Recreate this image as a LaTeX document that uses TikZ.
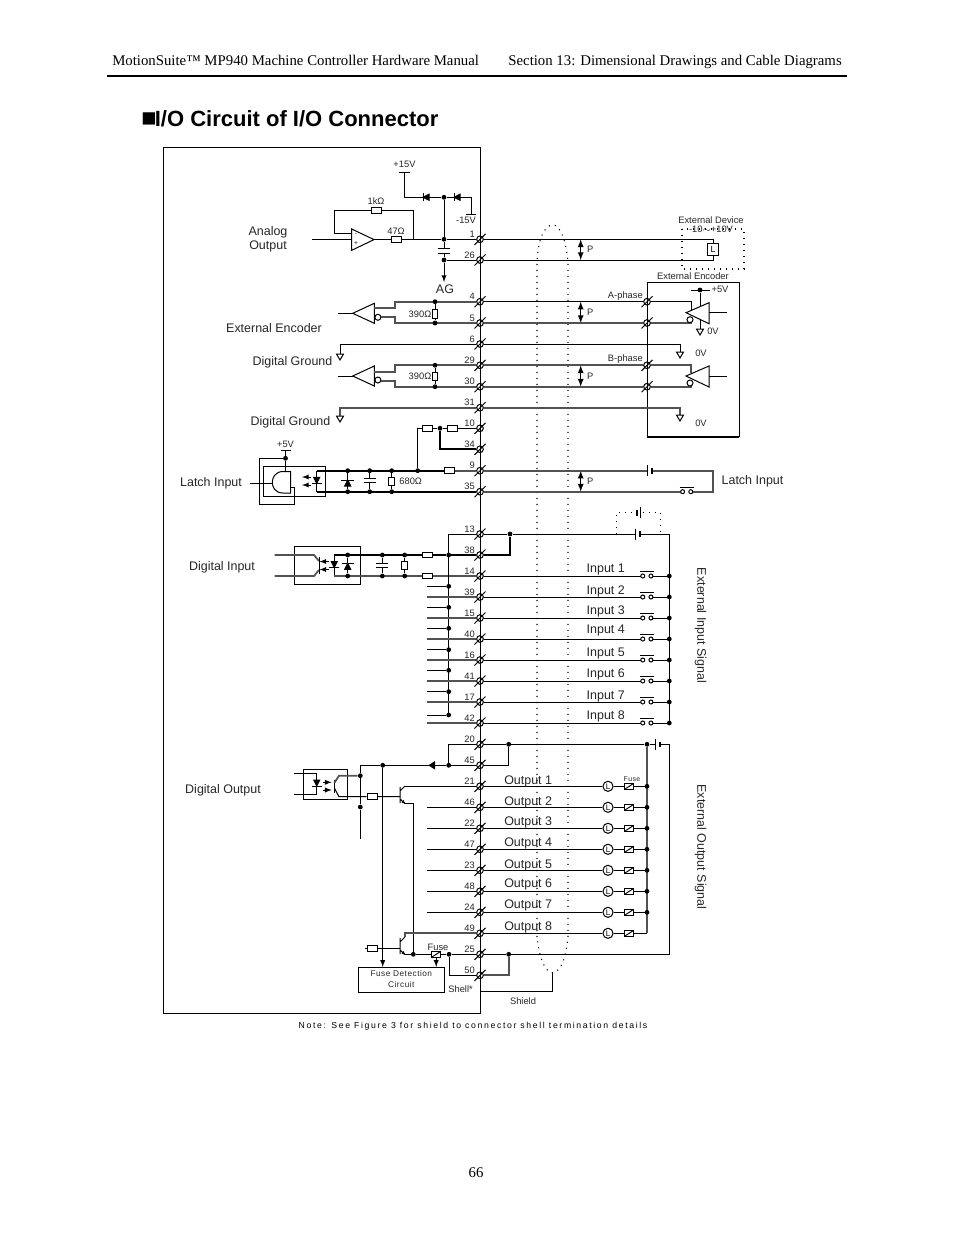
\documentclass[tikz,border=0pt]{standalone}
\usepackage{fontspec}
\setmainfont{Liberation Sans}
\newfontfamily\headfont{Liberation Serif}
\newfontfamily\notefont[LetterSpace=19]{Liberation Sans}
\newfontfamily\spacedfont[LetterSpace=6]{Liberation Sans}
\usetikzlibrary{calc}
\tikzset{
    wire/.style={line width=0.75pt},
    wireg/.style={line width=1.3pt,black!68},
    wirek/.style={line width=1.6pt},
    shieldline/.style={line width=0.8pt,dash pattern=on 0.8pt off 3.7pt},
    dot/.style={circle,fill=black,inner sep=0pt,minimum size=3.6pt},
    term/.style={circle,draw,line width=0.75pt,inner sep=0pt,minimum size=5pt},
    hres/.style={draw,line width=0.75pt,inner sep=0pt,minimum width=7.5pt,minimum height=4.2pt},
    vres/.style={draw,line width=0.75pt,inner sep=0pt,minimum width=4.4pt,minimum height=6.2pt},
    fusebox/.style={draw,line width=0.85pt,fill=white,inner sep=0pt,minimum width=7pt,minimum height=4.6pt,
        path picture={\draw[line width=0.7pt] (path picture bounding box.south west) -- (path picture bounding box.north east);}},
    lamp/.style={circle,draw,line width=0.75pt,fill=white,inner sep=0pt,minimum size=7.6pt,font=\fontsize{6}{6}\selectfont},
    biglab/.style={inner sep=0pt,font=\fontsize{9.35}{10.5}\selectfont,text=black!85},
    midlab/.style={inner sep=0pt,font=\fontsize{7}{7.5}\selectfont,text=black!85},
    tinylab/.style={inner sep=0pt,font=\fontsize{5.2}{6}\selectfont\spacedfont,text=black!85},
    pics/gndsym/.style={code={\draw[wire] (-3.5,0) -- (3.5,0) -- (0,6) -- cycle;}},
    pics/diode/.style={code={
        \draw[wire,fill=black] (-3,3) -- (3,3) -- (0,-3) -- cycle;
        \draw[wire] (-#1,-3) -- (#1,-3);}},
    pics/capv/.style={code={
        \fill[white] (-6,-2.2) rectangle (6,2.2);
        \draw[wire] (-6,-2.2) -- (6,-2.2) (-6,2.2) -- (6,2.2);}},
    pics/swi/.style={code={
        \fill[white] (-4,-1.5) rectangle (4,1.5);
        \draw[wire,fill=white] (-4.1,0) circle (2) (4.1,0) circle (2);
        \draw[line width=#1] (-7,-4.5) -- (7,-4.5);}},
    pics/recv/.style={code={
        \draw[wire] (0,0) -- (21.6,-10) -- (21.6,10) -- cycle;
        \draw[wire] (25.2,4) circle (3);}},
    pics/drvr/.style={code={
        \draw[wire] (0,0) -- (23,-10) -- (23,11) -- cycle;
        \draw[wire] (4,7) circle (3);}},
    pics/npn/.style={code={
        \draw[wire] (0,-8) -- (0,8) (0,-4) -- (5,-9) (0,4) -- (5,8.5);
        \fill (5,8.5) -- (1.5,7.6) -- (3.6,5) -- cycle;}},
    pics/photo/.style={code={
        \draw[wire,-latex] (9,-4) -- (0,-4);
        \draw[wire,-latex] (9,4) -- (0,4);}},
    pics/cell/.style={code={
        \fill[white] (-0.5,-3) rectangle (4,3);
        \draw[wire] (0,-5.5) -- (0,5.5);
        \draw[line width=1.3pt] (4,-2.8) -- (4,2.8);}}
}
\begin{document}
\begin{tikzpicture}[x=0.75pt,y=-0.75pt]

        \useasboundingbox (0,0) rectangle (954,1235);

        %page text
        \node[anchor=base west,inner sep=0pt,font=\fontsize{11.1}{13}\selectfont\headfont] (headl) at (112,65) {MotionSuite™ MP940 Machine Controller Hardware Manual};
        \node[anchor=base east,inner sep=0pt,font=\fontsize{11.1}{13}\selectfont\headfont] (headr) at (842,65) {Section 13: Dimensional Drawings and Cable Diagrams};
        \coordinate (rulel) at (107,76);
        \coordinate (ruler) at (847,76);
        \draw[line width=1pt] (rulel) -- (ruler);
        \node[anchor=base west,inner sep=0pt,font=\fontsize{16.5}{19}\selectfont\bfseries] (title) at (141,126) {{\fontsize{19}{19}\selectfont ■}\hspace{-1.3pt}I/O Circuit of I/O Connector};
        \node[inner sep=0pt,font=\fontsize{11.1}{13}\selectfont\headfont] (pageno) at (476,1173) {66};
        \node[inner sep=0pt,font=\fontsize{6.5}{8}\selectfont\notefont] (note) at (473,1026) {Note: See Figure 3 for shield to connector shell termination details};

        %frame
        \draw[line width=0.75pt] (163,147) rectangle (480,1013);

        %terminals
        \foreach \n/\y in {1/239.3,26/260,4/301.7,5/323,6/344,29/365.3,30/386.7,31/407.7,10/428.3,34/449.3,9/470.7,35/491.7,
                13/534,38/555,14/576,39/597,15/618,40/639,16/660,41/681,17/702,42/723,
                20/744.3,45/765.3,21/786.3,46/807.3,22/828.3,47/849.3,23/870.3,48/891.3,24/912.3,49/933.3,25/954.3,50/975.3}{
            \node[term] (t\n) at (480,\y) {};
            \draw[wire] (t\n) ++(-5.5,5.5) -- ++(11,-11);
            \node[midlab,anchor=east] (pin\n) at (475,\y-5) {\n};
        }

        %external encoder box
        \draw[wire] (647,282) -- (739,282) -- (739,437);
        \draw[wire] (647,282) -- (647,437);
        \draw[line width=1.2pt] (647,437) -- (739,437);
        \node[midlab] (encname) at (693,276) {External Encoder};
        \foreach \n/\y in {4/301.7,5/323,29/365.3,30/386.7}{
            \node[term] (e\n) at (647,\y) {};
            \draw[wire] (e\n) ++(-5.5,5.5) -- ++(11,-11);
        }
        \node[midlab,anchor=east] (aphase) at (643,296) {A-phase};
        \node[midlab,anchor=east] (bphase) at (643,359) {B-phase};

        %analog output
        \coordinate (aoin) at (312,239.3);
        \draw[wire] (aoin) -- (351.7,239.3);
        \draw[wire] (351.7,229) -- (374,239.6) -- (351.7,250.3) -- cycle;
        \node[inner sep=0pt,font=\fontsize{5}{5}\selectfont] (minus) at (356,234) {-};
        \node[inner sep=0pt,font=\fontsize{5}{5}\selectfont] (plus) at (356,243.5) {+};
        \node[hres] (r47) at (396,239.3) {};
        \node[hres] (r1k) at (376,210.7) {};
        \node[midlab] (l47) at (396,231) {47Ω};
        \node[midlab] (l1k) at (376,201.5) {1kΩ};
        \node[dot] (ja) at (444,239.3) {};
        \node[dot] (jb) at (444,197.3) {};
        \node[dot] (jc) at (444,260) {};
        \coordinate (opout) at (374,239.3);
        \coordinate (fbin) at (351.7,233.7);
        \coordinate (fbout) at (413.3,239.3);
        \draw[wire] (opout) -- (r47) -- (ja) -- (t1);
        \draw[wire] (fbin) -| (334.3,210.7) -- (r1k) -| (fbout);
        \coordinate (vplus) at (404.5,172.3);
        \coordinate (vminus) at (471,214.3);
        \draw[wire] (399,172.3) -- (410,172.3);
        \draw[wire] (vplus) |- (jb);
        \draw[wire] (jb) -| (vminus);
        \draw[line width=1.1pt] (466,214.3) -- (476,214.3);
        \node[midlab] (lplus) at (404.5,164.5) {+15V};
        \node[midlab] (lminus) at (466,220.5) {-15V};
        \pic[rotate=90] at (426,197.3) {diode=4};
        \pic[rotate=90] at (457,197.3) {diode=4};
        \draw[wire] (jb) -- (ja) -- (jc);
        \pic at (444,250.8) {capv};
        \draw[wire] (jc) -- (t26);
        \coordinate (agnd) at (444,282);
        \draw[wire,-{latex}] (jc) -- (agnd);
        \node[biglab] (lag) at (445,289) {AG};
        \node[biglab,align=center] (laout) at (268,239.5) {Analog\\Output};

        %encoder receivers
        \foreach \k/\yy/\ya/\yb/\ra/\rb in {1/313.3/308.3/317/4/5,2/376/372/380.7/29/30}{
            \coordinate (rin\k) at (338,\yy);
            \draw[wire] (rin\k) -- (352.7,\yy);
            \pic at (352.7,\yy) {recv};
            \coordinate (ru\k) at (374.3,\ya);
            \coordinate (rl\k) at (381,\yb);
            \draw[wireg] (ru\k) -- (395,\ya) |- (t\ra);
            \draw[wireg] (rl\k) -- (395,\yb) |- (t\rb);
            \node[dot] (rdu\k) at (t\ra -| 435,0) {};
            \node[dot] (rdl\k) at (t\rb -| 435,0) {};
            \node[vres] (rv\k) at (435,\yy+0.6) {};
            \draw[wire] (rdu\k) -- (rv\k) -- (rdl\k);
            \node[midlab] (lr\k) at (420,\yy+0.6) {390Ω};
        }
        \node[biglab] (lenc) at (274,328.5) {External Encoder};

        %digital grounds
        \draw[wire] (t6) -| (340,354);
        \pic at (340,354) {gndsym};
        \node[biglab] (ldg1) at (292.5,362.5) {Digital Ground};
        \draw[wireg] (t31) -| (340,416);
        \pic at (340,416) {gndsym};
        \node[biglab] (ldg2) at (290.5,422.5) {Digital Ground};

        %latch input
        \node[midlab] (lp5) at (285.5,444) {+5V};
        \draw[wire] (280.7,450.7) -- (290.7,450.7);
        \node[dot] (jp5) at (285.5,458.3) {};
        \coordinate (p5top) at (285.5,450.7);
        \draw[wire] (p5top) -- (jp5) -- (285.5,471.5);
        \draw[wire] (jp5) -- (259.3,458.3) -- (259.3,504) -- (294.3,504) -- (294.3,487.7) -- (290.7,487.7);
        \draw[wire] (263.3,466.7) -- (325.7,466.7) -- (325.7,496.7) -- (263.3,496.7);
        \draw[line width=1.1pt] (263.3,466.3) -- (263.3,497.1);
        \draw[wire] (290.7,471.5) -- (283,471.5) .. controls (275,471.5) and (272.3,478) .. (272.3,482.5)
            .. controls (272.3,487) and (275,493) .. (283,493) -- (290.7,493) -- cycle;
        \coordinate (latchin) at (250,483);
        \draw[wire] (latchin) -- (272.3,483);
        \pic at (302,481) {photo};
        \coordinate (lt) at (316.7,470.7);
        \coordinate (lb) at (316.7,491.7);
        \draw[wire] (lt) -- (lb);
        \pic[rotate=180] at (316.7,480.3) {diode=5};
        \node[hres] (r9) at (449,470.7) {};
        \draw[wirek] (lt) -- (r9);
        \draw[wireg] (r9) -- (t9);
        \draw[wirek] (lb) -- (t35);
        \foreach \i/\x in {1/347.7,2/369.7,3/391.7}{
            \node[dot] (lu\i) at (\x,470.7) {};
            \node[dot] (ll\i) at (\x,491.7) {};
            \draw[wire] (lu\i) -- (ll\i);
        }
        \pic at (347.7,483) {diode=6.5};
        \pic at (369.7,480.7) {capv};
        \fill[white] (388.7,477.3) rectangle (394.7,485.3);
        \node[vres] (r680) at (391.7,481.3) {};
        \node[midlab] (l680) at (410.7,481) {680Ω};
        \node[dot] (lu4) at (417.7,470.7) {};
        \node[hres] (r10a) at (427.2,428.3) {};
        \node[dot] (j10) at (440,428.3) {};
        \node[hres] (r10b) at (452.8,428.3) {};
        \draw[wire] (lu4) |- (r10a) -- (j10) -- (r10b) -- (t10);
        \draw[wirek] (j10) |- (t34);
        \node[biglab] (llat) at (211,483.5) {Latch Input};

        %digital input
        \draw[wire] (294.3,546.7) rectangle (360.7,584.3);
        \coordinate (di1) at (274.7,555);
        \coordinate (di2) at (274.7,576);
        \draw[wireg] (di1) -- (314,555) -- (319,561);
        \draw[wireg] (di2) -- (314,576) -- (319,570);
        \draw[wire] (319.3,557) -- (319.3,574);
        \pic at (319.5,565.5) {photo};
        \coordinate (dit) at (334.3,555);
        \coordinate (dib) at (334.3,576);
        \draw[wire] (dit) -- (dib);
        \pic[rotate=180] at (334.3,564.5) {diode=5};
        \node[hres] (rd1) at (427,555) {};
        \node[hres] (rd2) at (427,576) {};
        \node[dot] (bustop) at (448.7,555) {};
        \draw[wirek] (dit) -- (rd1) -- (bustop) -- (t38);
        \draw[wireg] (dib) -- (rd2) -- (t14);
        \foreach \i/\x in {1/347.7,2/382.3,3/404.7}{
            \node[dot] (du\i) at (\x,555) {};
            \node[dot] (dl\i) at (\x,576) {};
            \draw[wire] (du\i) -- (dl\i);
        }
        \pic at (347.7,566.3) {diode=6};
        \pic at (382.3,565.5) {capv};
        \fill[white] (401.7,561.7) rectangle (407.7,569.3);
        \node[vres] (rd3) at (404.7,565.5) {};
        \coordinate (busend) at (448.7,715);
        \draw[wire] (t13) -| (busend);
        \coordinate (ileft) at (426.7,0);
        \foreach \n in {39,15,40,16,41,17,42}{
            \draw[wireg] (t\n -| ileft) -- (t\n);
        }
        \foreach \i/\y in {1/586.3,2/607.3,3/628.3,4/649.7,5/670.3,6/691.7,7/715}{
            \node[dot] (st\i) at (448.7,\y) {};
            \draw[wire] (st\i) -- (426.7,\y);
        }
        \node[biglab] (ldi) at (222,567.5) {Digital Input};

        %digital output
        \draw[wire] (303.3,769.3) rectangle (347.7,799.3);
        \coordinate (do1) at (294.3,773.3);
        \coordinate (do2) at (294.3,794.3);
        \draw[wire] (do1) -- (316.7,773.3) -- (316.7,794.3) -- (do2);
        \pic[rotate=180] at (316.7,783) {diode=5};
        \draw[wire,-latex] (323.3,782.3) -- (331.7,782.3);
        \draw[wire,-latex] (323.3,790) -- (331.7,790);
        \draw[wire] (334.3,780) -- (334.3,793);
        \node[dot] (jo1) at (360.3,775.7) {};
        \node[dot] (jo2) at (360.3,807) {};
        \node[dot] (jo3) at (382.7,765.3) {};
        \node[dot] (jo4) at (448.7,765.3) {};
        \node[hres] (ro1) at (372,796.7) {};
        \draw[wireg] (334.3,783) -- (339,775.7) -- (jo1);
        \draw[wire] (334.3,788) -- (339,796.7) -- (ro1) -- (400,796.7);
        \coordinate (busdo) at (360.3,839);
        \draw[wire] (t45) -- (jo4) -- (jo3) -- (360.3,765.3) -- (jo1) -- (jo2) -- (busdo);
        \fill (428.3,765.3) -- (435,761) -- (435,769.6) -- cycle;
        \draw[wire] (jo4) |- (t20);
        \pic at (400,795) {npn};
        \coordinate (q1c) at (405,786.3);
        \coordinate (q1e) at (405,803.5);
        \node[dot] (jq) at (413.3,954.3) {};
        \draw[wire] (q1c) -- (t21);
        \draw[wire] (q1e) -| (jq);
        \coordinate (oleft) at (426.7,0);
        \foreach \n in {46,22,47,23,48,24}{
            \draw[wire] (t\n -| oleft) -- (t\n);
        }
        \pic at (400,946) {npn};
        \coordinate (q2c) at (405,937);
        \coordinate (q2e) at (405,954.3);
        \draw[wireg] (q2c) |- (t49);
        \node[fusebox] (fint) at (436.2,954.3) {};
        \node[dot] (j25) at (449,954.3) {};
        \draw[wire] (q2e) -- (jq) -- (fint) -- (j25) -- (t25);
        \draw[wire] (j25) |- (t50);
        \node[hres] (ro2) at (372,948.3) {};
        \coordinate (ro2in) at (365,948.3);
        \draw[wire] (ro2in) -- (ro2) -- (400,948.3);
        \node[midlab] (lfint) at (438,947.5) {Fuse};
        \node[draw,line width=0.75pt,minimum width=64.5pt,minimum height=18.6pt,inner sep=0pt] (fdet) at (401.3,979.8) {};
        \node[midlab,font=\fontsize{6.2}{7.6}\selectfont\spacedfont,align=center] (lfdet) at (401.3,979) {Fuse Detection\\Circuit};
        \draw[wire,-latex] (jo3) -- (jo3 |- fdet.north);
        \draw[wire,-latex] (fint) -- (fint |- fdet.north);
        \node[midlab,anchor=east] (lshell) at (473,989.5) {Shell*};
        \coordinate (shellpt) at (480,991.7);
        \coordinate (shieldbot) at (552.3,972.7);
        \draw[wire] (shellpt) -| (shieldbot);
        \node[midlab] (lshield) at (523,1001) {Shield};
        \node[biglab] (ldo) at (223,790.5) {Digital Output};

        %shield
        \draw[shieldline] (537,937) -- (537,262) .. controls (538,240) and (544,225) .. (553,225)
            .. controls (560,225) and (566,240) .. (568,262) -- (568,937)
            .. controls (566,955) and (562,972) .. (552.3,972.7) .. controls (544,972) and (539,955) .. (537,937);

        %external device
        \coordinate (devr) at (713,250);
        \draw[wire] (t1) -| (devr) |- (t26);
        \node[draw,line width=0.75pt,fill=white,minimum width=8.6pt,minimum height=8.4pt,inner sep=0pt,font=\fontsize{6.7}{7}\selectfont] (lload) at (713,249.5) {L};
        \node[midlab] (ldev) at (711,220) {External Device};
        \node[midlab] (lrange) at (711,229.7) {-10$\sim$+10V};
        \draw[shieldline] (682,229) rectangle (744,269);

        %P marks
        \foreach \i/\a/\b in {1/1/26,2/4/5,3/29/30,4/9/35}{
            \coordinate (pa\i) at (t\a -| 580.7,0);
            \coordinate (pb\i) at (t\b -| 580.7,0);
            \draw[line width=1pt,latex-latex] (pa\i) -- (pb\i);
            \node[midlab] (lp\i) at ($(pa\i)!0.5!(pb\i)+(9.5,0)$) {P};
        }

        %encoder side
        \draw[wire] (t4) -- (e4) -- (691,301.7) -- (691,311);
        \draw[wireg] (t5) -- (e5) -- (692,323);
        \draw[wireg] (t29) -- (e29) -- (691,365.3) -- (691,373);
        \draw[wireg] (t30) -- (e30) -- (692,386.7);
        \pic at (686,312.7) {drvr};
        \pic at (686,376) {drvr};
        \coordinate (dr1) at (709,312.7);
        \coordinate (dr2) at (709,376);
        \draw[wire] (dr1) -- (727,312.7);
        \draw[wire] (dr2) -- (727,376);
        \node[dot] (jv5) at (700,290) {};
        \draw[wire] (690.7,290) -- (710,290);
        \draw[wire] (jv5) -- (700,306.5);
        \node[midlab] (lv5) at (720,289) {+5V};
        \draw[wire] (700,319) -- (700,329);
        \pic at (700,329) {gndsym};
        \node[midlab] (l0v1) at (713,331) {0V};
        \draw[wire] (t6) -| (680,352);
        \pic at (680,352) {gndsym};
        \node[midlab] (l0v2) at (701,353) {0V};
        \draw[wireg] (t31) -| (680,415);
        \pic at (680,415) {gndsym};
        \node[midlab] (l0v3) at (701,423) {0V};

        %latch input, field side
        \coordinate (latr) at (712.7,481);
        \draw[wireg] (t9) -| (latr) |- (t35);
        \pic at (647.7,470.7) {cell};
        \pic at (686.7,491.7) {swi=0.75pt};
        \node[biglab] (llatr) at (752.5,481.5) {Latch Input};

        %external input signal
        \node[dot] (j13) at (510,534) {};
        \draw[wirek] (t38) -| (j13);
        \coordinate (ibus) at (669.3,723);
        \coordinate (isw) at (646.85,0);
        \draw[wire] (t13) -- (j13) -| (ibus);
        \pic at (635.7,534) {cell};
        \draw[shieldline] (616.3,534) |- (660.3,512.7) -- (660.3,534);
        \pic[rotate=180] at (640.7,512.7) {cell};
        \foreach \i/\n/\y/\w in {1/14/568/0.75pt,2/39/590/1.3pt,3/15/610/0.75pt,4/40/629/0.75pt,
                5/16/652/1.3pt,6/41/673/1.3pt,7/17/695/0.75pt,8/42/715/0.75pt}{
            \node[dot] (ib\i) at (t\n -| ibus) {};
            \draw[wire] (t\n) -- (ib\i);
            \pic at (t\n -| isw) {swi=\w};
            \node[biglab,anchor=west] (lin\i) at (586.4,\y+1.6) {Input \i};
        }
        \node[biglab,rotate=-90] (lext1) at (700.5,625.5) {External Input Signal};

        %external output signal
        \node[dot] (j20) at (508.7,744.3) {};
        \node[dot] (j25r) at (508.7,954.3) {};
        \node[dot] (jout) at (647,744.3) {};
        \coordinate (obus) at (647,933.3);
        \coordinate (ret) at (669.3,850);
        \draw[wire] (t20) -- (j20) -- (jout) -- (655.7,744.3) (660,744.3) -| (ret);
        \draw[wire] (j20) |- (t45);
        \draw[wire] (ret) |- (j25r) -- (t25);
        \draw[wireg] (j25r) |- (t50);
        \draw[wireg] (jout) -- (obus);
        \pic at (655.7,744.3) {cell};
        \coordinate (olamp) at (608,0);
        \coordinate (ofuse) at (629.2,0);
        \foreach \i/\n/\y in {1/21/780,2/46/801,3/22/821,4/47/842,5/23/864,6/48/883,7/24/904,8/49/926}{
            \node[lamp] (ol\i) at (t\n -| olamp) {L};
            \node[fusebox] (of\i) at (t\n -| ofuse) {};
            \draw[wire] (t\n) -- (ol\i) -- (of\i) -- (t\n -| obus);
            \node[biglab,anchor=west] (lout\i) at (504,\y+1.6) {Output \i};
        }
        \foreach \i/\n in {1/21,2/46,3/22,4/47,5/23,6/48,7/24}{
            \node[dot] (ob\i) at (t\n -| obus) {};
        }
        \node[tinylab] (lfext) at (632,779) {Fuse};
        \node[biglab,rotate=-90] (lext2) at (700.5,847) {External Output Signal};

    \end{tikzpicture}
\end{document}
